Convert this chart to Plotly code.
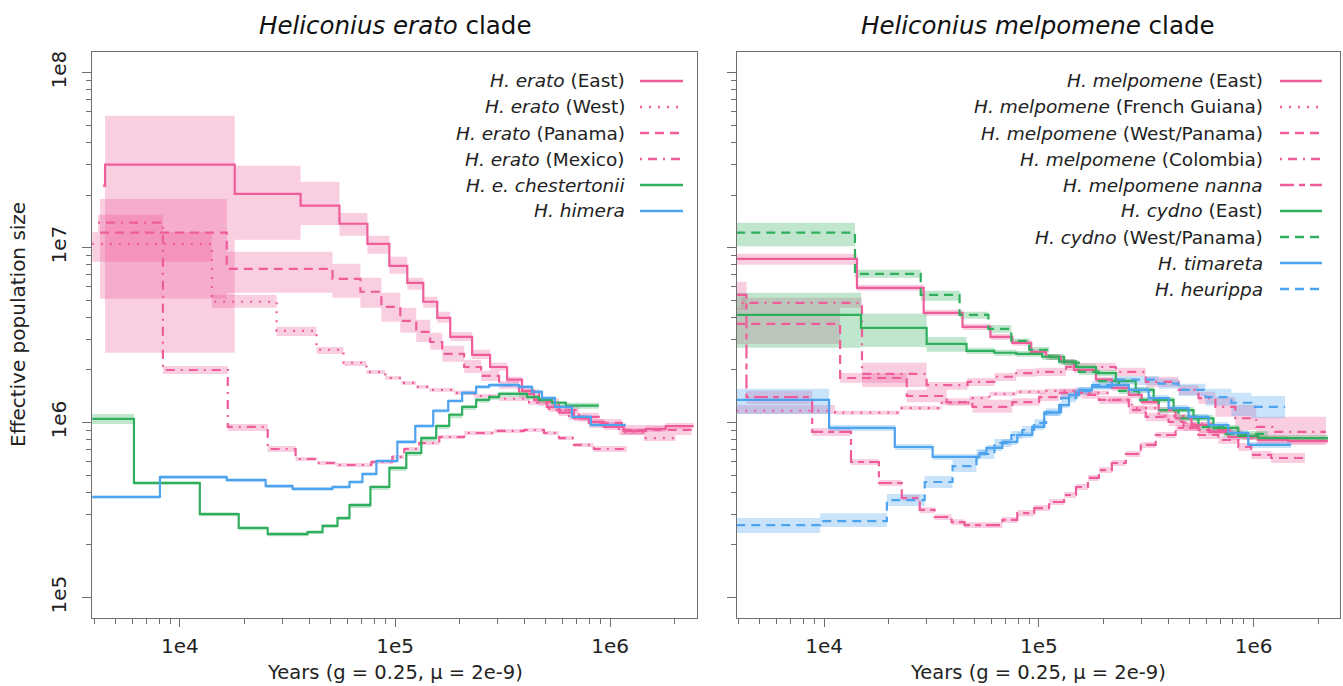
import plotly.graph_objects as go

W, H = 1343, 686
FONT = "DejaVu Sans"
PINK = "#EE5C9A"
GREEN = "#2FAE5E"
BLUE = "#4DA3EE"
AXC = "#6E6E6E"

# ---------------- Left panel: Heliconius erato clade ----------------
erato_east_t = [4400, 4490, 17990, 36390, 55170, 74400, 94100, 114000, 135300, 157100, 180500, 228200, 276600,
                331700, 389200, 442500, 508100, 577800, 678000, 795800, 933900, 1156000, 1462000, 1810000, 2440000]
erato_east_ne = [2.26e7, 2.98e7, 2.03e7, 1.74e7, 1.37e7, 1.05e7, 7.88e6, 6.30e6, 4.91e6, 3.97e6, 3.09e6, 2.44e6,
                 2.08e6, 1.76e6, 1.52e6, 1.35e6, 1.23e6, 1.14e6, 1.06e6, 1.01e6, 9.45e5, 8.97e5, 9.20e5, 9.57e5]
erato_east_lo = [2.20e7, 2.51e6, 1.11e7, 1.35e7, 1.17e7, 9.23e6, 7.09e6, 5.74e6, 4.53e6, 3.72e6, 2.93e6, 2.31e6,
                 1.98e6, 1.69e6, 1.46e6, 1.30e6, 1.18e6, 1.09e6, 1.02e6, 9.70e5, 9.08e5, 8.62e5, 8.85e5, 9.20e5]
erato_east_hi = [2.32e7, 5.68e7, 2.94e7, 2.38e7, 1.58e7, 1.17e7, 8.87e6, 6.73e6, 5.24e6, 4.30e6, 3.30e6, 2.61e6,
                 2.20e6, 1.83e6, 1.58e6, 1.40e6, 1.28e6, 1.18e6, 1.11e6, 1.05e6, 9.83e5, 9.33e5, 9.57e5, 9.96e5]

erato_west_t = [3900, 14070, 28170, 43170, 57590, 73610, 90160, 106900, 125500, 144200, 188300, 233100, 304500,
                419500, 519100, 642700, 795800, 1096000, 1431000, 2014000]
erato_west_ne = [1.05e7, 4.91e6, 3.35e6, 2.61e6, 2.20e6, 1.95e6, 1.80e6, 1.69e6, 1.60e6, 1.54e6, 1.48e6, 1.42e6,
                 1.37e6, 1.30e6, 1.18e6, 1.06e6, 9.70e5, 8.85e5, 8.17e5]
erato_west_lo = [8.31e6, 4.53e6, 3.13e6, 2.47e6, 2.11e6, 1.90e6, 1.76e6, 1.64e6, 1.56e6, 1.50e6, 1.44e6, 1.38e6,
                 1.33e6, 1.26e6, 1.15e6, 1.04e6, 9.33e5, 8.50e5, 7.86e5]
erato_west_hi = [1.23e7, 5.38e6, 3.53e6, 2.71e6, 2.25e6, 2.00e6, 1.85e6, 1.73e6, 1.64e6, 1.58e6, 1.52e6, 1.46e6,
                 1.40e6, 1.33e6, 1.21e6, 1.09e6, 1.01e6, 9.20e5, 8.50e5]

erato_panama_t = [4257, 16520, 51220, 69050, 86410, 105800, 125500, 145700, 165700, 209600, 251200, 304500,
                  377000, 466700, 577800, 715200, 885200, 1132000, 2389000]
erato_panama_ne = [1.22e7, 7.57e6, 6.64e6, 5.60e6, 4.59e6, 3.82e6, 3.30e6, 2.89e6, 2.47e6, 2.08e6, 1.85e6,
                   1.64e6, 1.46e6, 1.31e6, 1.18e6, 1.08e6, 9.96e5, 9.08e5]
erato_panama_lo = [5.10e6, 5.52e6, 5.17e6, 4.53e6, 3.77e6, 3.26e6, 2.89e6, 2.61e6, 2.23e6, 1.92e6, 1.73e6,
                   1.56e6, 1.38e6, 1.25e6, 1.12e6, 1.02e6, 9.45e5, 8.50e5]
erato_panama_hi = [1.90e7, 9.48e6, 8.09e6, 6.73e6, 5.52e6, 4.53e6, 3.87e6, 3.26e6, 2.75e6, 2.28e6, 1.98e6,
                   1.73e6, 1.54e6, 1.38e6, 1.25e6, 1.14e6, 1.05e6, 9.70e5]

erato_mexico_t = [4168, 8341, 16700, 25590, 34500, 43630, 53450, 77650, 97160, 110400, 129600, 160500, 209600,
                  288700, 397700, 492200, 577800, 678000, 839200, 1194000]
erato_mexico_ne = [1.39e7, 2.00e6, 9.45e5, 7.07e5, 6.20e5, 5.88e5, 5.73e5, 5.96e5, 6.37e5, 7.07e5, 7.65e5,
                   8.28e5, 8.73e5, 8.97e5, 9.08e5, 8.73e5, 8.17e5, 7.46e5, 7.07e5]
erato_mexico_lo = [1.23e7, 1.90e6, 8.97e5, 6.80e5, 6.04e5, 5.73e5, 5.58e5, 5.80e5, 6.20e5, 6.89e5, 7.46e5,
                   8.07e5, 8.50e5, 8.73e5, 8.85e5, 8.50e5, 7.96e5, 7.26e5, 6.80e5]
erato_mexico_hi = [1.54e7, 2.11e6, 9.83e5, 7.36e5, 6.37e5, 6.04e5, 5.88e5, 6.12e5, 6.54e5, 7.26e5, 7.86e5,
                   8.50e5, 8.97e5, 9.20e5, 9.33e5, 8.97e5, 8.39e5, 7.65e5, 7.36e5]

chestertonii_t = [3900, 6118, 12380, 18770, 25590, 39220, 46030, 54010, 61410, 76820, 94100, 112800, 132400,
                  155400, 178600, 205100, 238200, 273600, 304500, 410600, 466700, 536000, 622400, 885200]
chestertonii_ne = [1.05e6, 4.52e5, 3.00e5, 2.50e5, 2.31e5, 2.37e5, 2.57e5, 2.85e5, 3.38e5, 4.29e5, 5.51e5,
                   6.71e5, 8.17e5, 9.57e5, 1.11e6, 1.23e6, 1.35e6, 1.40e6, 1.46e6, 1.40e6, 1.35e6, 1.30e6, 1.25e6]
chestertonii_lo = [9.83e5, 4.40e5, 2.92e5, 2.43e5, 2.24e5, 2.31e5, 2.50e5, 2.78e5, 3.25e5, 4.12e5, 5.29e5,
                   6.45e5, 7.86e5, 9.20e5, 1.06e6, 1.18e6, 1.30e6, 1.35e6, 1.40e6, 1.35e6, 1.30e6, 1.25e6, 1.20e6]
chestertonii_hi = [1.12e6, 4.64e5, 3.08e5, 2.57e5, 2.37e5, 2.43e5, 2.63e5, 2.92e5, 3.47e5, 4.40e5, 5.65e5,
                   6.89e5, 8.39e5, 9.83e5, 1.14e6, 1.26e6, 1.38e6, 1.44e6, 1.50e6, 1.44e6, 1.38e6, 1.33e6, 1.30e6]

himera_t = [3900, 8078, 16520, 25040, 33420, 51220, 61410, 70540, 81900, 102500, 124200, 150500, 176700, 205100,
            238200, 273600, 377000, 433100, 481900, 553500, 663600, 812800, 1181000]
himera_ne = [3.76e5, 4.89e5, 4.70e5, 4.34e5, 4.18e5, 4.29e5, 4.58e5, 5.09e5, 6.04e5, 7.76e5, 9.57e5, 1.17e6,
             1.33e6, 1.48e6, 1.60e6, 1.64e6, 1.60e6, 1.50e6, 1.38e6, 1.23e6, 1.08e6, 9.70e5]
himera_lo = [3.66e5, 4.76e5, 4.58e5, 4.23e5, 4.07e5, 4.18e5, 4.46e5, 4.95e5, 5.88e5, 7.55e5, 9.33e5, 1.14e6,
             1.30e6, 1.44e6, 1.56e6, 1.60e6, 1.56e6, 1.46e6, 1.35e6, 1.20e6, 1.05e6, 9.45e5]
himera_hi = [3.86e5, 5.02e5, 4.83e5, 4.46e5, 4.29e5, 4.40e5, 4.70e5, 5.22e5, 6.20e5, 7.96e5, 9.83e5, 1.20e6,
             1.37e6, 1.52e6, 1.64e6, 1.69e6, 1.64e6, 1.54e6, 1.42e6, 1.26e6, 1.11e6, 9.96e5]

# ---------------- Right panel: Heliconius melpomene clade ----------------
mel_east_t = [3900, 14220, 29080, 44100, 59480, 75200, 92100, 108100, 126900, 145700, 184400, 218700, 262200,
              301200, 361200, 433100, 513600, 616000, 762500, 1050000, 1447000, 2218000]
mel_east_ne = [8.64e6, 5.90e6, 4.24e6, 3.53e6, 3.09e6, 2.86e6, 2.54e6, 2.38e6, 2.23e6, 2.00e6, 1.76e6, 1.58e6,
               1.44e6, 1.31e6, 1.18e6, 1.06e6, 9.70e5, 8.85e5, 8.28e5, 7.96e5, 7.86e5]
mel_east_lo = [7.98e6, 5.67e6, 4.08e6, 3.39e6, 2.97e6, 2.75e6, 2.44e6, 2.28e6, 2.14e6, 1.92e6, 1.69e6, 1.52e6,
               1.38e6, 1.26e6, 1.14e6, 1.02e6, 9.33e5, 8.50e5, 7.96e5, 7.65e5, 7.55e5]
mel_east_hi = [9.23e6, 6.14e6, 4.42e6, 3.67e6, 3.22e6, 2.97e6, 2.64e6, 2.47e6, 2.31e6, 2.08e6, 1.83e6, 1.64e6,
               1.50e6, 1.37e6, 1.23e6, 1.11e6, 1.01e6, 9.20e5, 8.62e5, 8.28e5, 8.17e5]

mel_fg_t = [3900, 11250, 22510, 35240, 47530, 58850, 78480, 108100, 162200, 211800, 270700, 361200, 481900,
            649600, 894800, 1447000]
mel_fg_ne = [1.17e6, 1.14e6, 1.21e6, 1.30e6, 1.38e6, 1.46e6, 1.50e6, 1.52e6, 1.48e6, 1.35e6, 1.21e6, 1.09e6,
             9.83e5, 8.85e5, 8.17e5]
mel_fg_lo = [1.12e6, 1.11e6, 1.18e6, 1.26e6, 1.35e6, 1.42e6, 1.46e6, 1.48e6, 1.44e6, 1.31e6, 1.18e6, 1.06e6,
             9.57e5, 8.62e5, 7.96e5]
mel_fg_hi = [1.26e6, 1.17e6, 1.25e6, 1.33e6, 1.42e6, 1.50e6, 1.54e6, 1.56e6, 1.52e6, 1.38e6, 1.25e6, 1.12e6,
             1.01e6, 9.08e5, 8.39e5]

mel_west_t = [3900, 11870, 24260, 37170, 49070, 75200, 100300, 124200, 158800, 190300, 262200, 314400, 401800,
              471700, 553500, 685300, 848300, 974800, 1206000, 1735000]
mel_west_ne = [3.67e6, 1.80e6, 1.42e6, 1.31e6, 1.23e6, 1.31e6, 1.40e6, 1.48e6, 1.44e6, 1.35e6, 1.18e6, 1.08e6,
               1.01e6, 9.45e5, 8.50e5, 7.96e5, 7.26e5, 6.54e5, 6.28e5]
mel_west_lo = [2.82e6, 1.69e6, 1.31e6, 1.25e6, 1.14e6, 1.25e6, 1.33e6, 1.40e6, 1.37e6, 1.28e6, 1.12e6, 1.02e6,
               9.57e5, 8.97e5, 8.07e5, 7.55e5, 6.89e5, 6.20e5, 5.88e5]
mel_west_hi = [4.53e6, 1.92e6, 1.54e6, 1.38e6, 1.35e6, 1.38e6, 1.48e6, 1.56e6, 1.52e6, 1.42e6, 1.25e6, 1.14e6,
               1.06e6, 9.96e5, 8.97e5, 8.39e5, 7.65e5, 6.89e5, 6.71e5]

mel_colombia_t = [4124, 15010, 30020, 46520, 62080, 78480, 97160, 133800, 176700, 228200, 314400, 447100,
                  553500, 663600, 821600, 1028000, 1259000, 2170000]
mel_colombia_ne = [4.84e6, 1.90e6, 1.64e6, 1.71e6, 1.83e6, 1.92e6, 1.95e6, 2.08e6, 2.08e6, 1.95e6, 1.71e6,
                   1.54e6, 1.38e6, 1.23e6, 1.06e6, 9.45e5, 8.85e5]
mel_colombia_lo = [4.53e6, 1.60e6, 1.54e6, 1.62e6, 1.73e6, 1.83e6, 1.85e6, 1.98e6, 1.98e6, 1.85e6, 1.60e6,
                   1.44e6, 1.28e6, 1.08e6, 9.08e5, 7.46e5, 7.46e5]
mel_colombia_hi = [5.17e6, 2.20e6, 1.71e6, 1.80e6, 1.92e6, 2.03e6, 2.06e6, 2.20e6, 2.20e6, 2.06e6, 1.83e6,
                   1.64e6, 1.50e6, 1.40e6, 1.26e6, 1.08e6, 1.08e6]

mel_nanna_t = [3900, 4349, 8800, 13340, 17990, 22990, 27870, 32700, 39220, 45050, 67570, 79320, 95100, 111600,
               131000, 148900, 169300, 190300, 218700, 253900, 298100, 349800, 433100, 553500, 804400]
mel_nanna_ne = [5.38e6, 1.40e6, 8.85e5, 5.96e5, 4.52e5, 3.71e5, 3.17e5, 2.89e5, 2.70e5, 2.60e5, 2.78e5, 3.04e5,
                3.25e5, 3.52e5, 3.86e5, 4.29e5, 4.83e5, 5.36e5, 5.88e5, 6.62e5, 7.46e5, 8.50e5, 9.33e5, 9.08e5]
mel_nanna_lo = [4.42e6, 1.28e6, 8.39e5, 5.73e5, 4.34e5, 3.57e5, 3.04e5, 2.78e5, 2.60e5, 2.50e5, 2.67e5, 2.92e5,
                3.13e5, 3.38e5, 3.71e5, 4.12e5, 4.64e5, 5.16e5, 5.65e5, 6.37e5, 7.17e5, 8.17e5, 8.97e5, 8.73e5]
mel_nanna_hi = [6.38e6, 1.52e6, 9.33e5, 6.20e5, 4.70e5, 3.86e5, 3.29e5, 3.00e5, 2.81e5, 2.70e5, 2.89e5, 3.17e5,
                3.38e5, 3.66e5, 4.01e5, 4.46e5, 5.02e5, 5.58e5, 6.12e5, 6.89e5, 7.76e5, 8.85e5, 9.70e5, 9.45e5]

cydno_east_t = [3900, 14850, 30020, 46030, 62080, 78480, 103600, 124200, 148900, 184400, 228200, 282500,
                342400, 424000, 524800, 649600, 848300, 1050000, 2218000]
cydno_east_ne = [4.13e6, 3.48e6, 2.82e6, 2.57e6, 2.51e6, 2.47e6, 2.38e6, 2.23e6, 2.08e6, 1.92e6, 1.73e6,
                 1.54e6, 1.35e6, 1.18e6, 1.06e6, 9.33e5, 8.39e5, 8.17e5]
cydno_east_lo = [2.68e6, 2.71e6, 2.54e6, 2.47e6, 2.41e6, 2.38e6, 2.28e6, 2.14e6, 2.00e6, 1.85e6, 1.67e6,
                 1.48e6, 1.30e6, 1.14e6, 1.02e6, 8.97e5, 8.07e5, 7.86e5]
cydno_east_hi = [5.52e6, 4.19e6, 3.09e6, 2.68e6, 2.61e6, 2.57e6, 2.47e6, 2.31e6, 2.17e6, 2.00e6, 1.80e6,
                 1.60e6, 1.40e6, 1.23e6, 1.11e6, 9.70e5, 8.73e5, 8.50e5]

cydno_west_t = [3900, 13920, 28170, 42720, 58210, 74400, 90160, 111600, 131000, 153700, 190300, 235700,
                291700, 361200, 447100, 553500, 722800, 1169000]
cydno_west_ne = [1.22e7, 7.09e6, 5.38e6, 4.13e6, 3.44e6, 2.93e6, 2.61e6, 2.38e6, 2.20e6, 1.95e6, 1.73e6,
                 1.52e6, 1.35e6, 1.18e6, 1.06e6, 9.45e5, 8.62e5]
cydno_west_lo = [1.02e7, 6.73e6, 4.97e6, 3.92e6, 3.26e6, 2.82e6, 2.51e6, 2.28e6, 2.11e6, 1.87e6, 1.67e6,
                 1.46e6, 1.30e6, 1.14e6, 1.02e6, 9.08e5, 8.28e5]
cydno_west_hi = [1.39e7, 7.48e6, 5.67e6, 4.30e6, 3.62e6, 3.03e6, 2.71e6, 2.47e6, 2.28e6, 2.03e6, 1.80e6,
                 1.58e6, 1.40e6, 1.23e6, 1.11e6, 9.83e5, 8.97e5]

timareta_t = [3900, 10550, 21340, 32020, 52880, 56980, 67570, 79320, 93100, 105800, 124200, 138200, 153700,
              176700, 218700, 262200, 324600, 401800, 497600, 616000, 762500, 943900, 1494000]
timareta_ne = [1.35e6, 9.33e5, 7.26e5, 6.37e5, 6.71e5, 7.17e5, 7.76e5, 8.50e5, 9.45e5, 1.14e6, 1.26e6, 1.44e6,
               1.54e6, 1.60e6, 1.64e6, 1.54e6, 1.38e6, 1.21e6, 1.08e6, 9.70e5, 8.73e5, 7.46e5]
timareta_lo = [1.12e6, 8.97e5, 6.98e5, 6.12e5, 6.45e5, 6.89e5, 7.46e5, 8.17e5, 9.08e5, 1.09e6, 1.21e6, 1.38e6,
               1.48e6, 1.54e6, 1.58e6, 1.48e6, 1.33e6, 1.17e6, 1.04e6, 9.33e5, 8.39e5, 7.17e5]
timareta_hi = [1.56e6, 9.70e5, 7.55e5, 6.62e5, 6.98e5, 7.46e5, 8.07e5, 8.85e5, 9.83e5, 1.18e6, 1.31e6, 1.50e6,
               1.60e6, 1.67e6, 1.71e6, 1.60e6, 1.44e6, 1.26e6, 1.12e6, 1.01e6, 9.08e5, 7.76e5]

heurippa_t = [3900, 9583, 19600, 29390, 39630, 51220, 62080, 74400, 83680, 95100, 108100, 126900, 148900,
              176700, 218700, 270700, 361200, 447100, 596400, 787100, 974600, 1401000]
heurippa_ne = [2.60e5, 2.74e5, 3.61e5, 4.58e5, 5.65e5, 6.62e5, 7.65e5, 8.50e5, 9.08e5, 9.96e5, 1.15e6, 1.38e6,
               1.52e6, 1.64e6, 1.76e6, 1.76e6, 1.67e6, 1.54e6, 1.40e6, 1.30e6, 1.23e6]
heurippa_lo = [2.34e5, 2.53e5, 3.34e5, 4.23e5, 5.22e5, 6.20e5, 7.26e5, 8.07e5, 8.62e5, 9.45e5, 1.09e6, 1.31e6,
               1.44e6, 1.56e6, 1.67e6, 1.64e6, 1.56e6, 1.42e6, 1.25e6, 1.09e6, 1.06e6]
heurippa_hi = [2.85e5, 3.04e5, 3.91e5, 4.95e5, 6.12e5, 7.07e5, 8.07e5, 8.97e5, 9.57e5, 1.05e6, 1.21e6, 1.46e6,
               1.60e6, 1.73e6, 1.85e6, 1.85e6, 1.78e6, 1.67e6, 1.56e6, 1.48e6, 1.42e6]

x_major = [1e4, 1e5, 1e6]
x_major_text = ["1e4", "1e5", "1e6"]
y_major = [1e5, 1e6, 1e7, 1e8]
y_major_text = ["1e5", "1e6", "1e7", "1e8"]
x_minor = [k * 10 ** e for e in (3, 4, 5, 6) for k in range(2, 10)]
y_minor = [k * 10 ** e for e in (5, 6, 7) for k in range(2, 10)]

DASHES = {"solid": "solid", "dot": "2px,7px", "dash": "9px,6px",
          "dashdot": "2px,6px,9px,6px", "twodash": "14px,5px,6px,5px"}

left_series = [
    ("<i>H. erato</i> (East)", erato_east_t, erato_east_ne, erato_east_lo, erato_east_hi, PINK, "solid"),
    ("<i>H. erato</i> (West)", erato_west_t, erato_west_ne, erato_west_lo, erato_west_hi, PINK, "dot"),
    ("<i>H. erato</i> (Panama)", erato_panama_t, erato_panama_ne, erato_panama_lo, erato_panama_hi, PINK, "dash"),
    ("<i>H. erato</i> (Mexico)", erato_mexico_t, erato_mexico_ne, erato_mexico_lo, erato_mexico_hi, PINK, "dashdot"),
    ("<i>H. e. chestertonii</i>", chestertonii_t, chestertonii_ne, chestertonii_lo, chestertonii_hi, GREEN, "solid"),
    ("<i>H. himera</i>", himera_t, himera_ne, himera_lo, himera_hi, BLUE, "solid"),
]
right_series = [
    ("<i>H. melpomene</i> (East)", mel_east_t, mel_east_ne, mel_east_lo, mel_east_hi, PINK, "solid"),
    ("<i>H. melpomene</i> (French Guiana)", mel_fg_t, mel_fg_ne, mel_fg_lo, mel_fg_hi, PINK, "dot"),
    ("<i>H. melpomene</i> (West/Panama)", mel_west_t, mel_west_ne, mel_west_lo, mel_west_hi, PINK, "dash"),
    ("<i>H. melpomene</i> (Colombia)", mel_colombia_t, mel_colombia_ne, mel_colombia_lo, mel_colombia_hi, PINK, "dashdot"),
    ("<i>H. melpomene nanna</i>", mel_nanna_t, mel_nanna_ne, mel_nanna_lo, mel_nanna_hi, PINK, "twodash"),
    ("<i>H. cydno</i> (East)", cydno_east_t, cydno_east_ne, cydno_east_lo, cydno_east_hi, GREEN, "solid"),
    ("<i>H. cydno</i> (West/Panama)", cydno_west_t, cydno_west_ne, cydno_west_lo, cydno_west_hi, GREEN, "dash"),
    ("<i>H. timareta</i>", timareta_t, timareta_ne, timareta_lo, timareta_hi, BLUE, "solid"),
    ("<i>H. heurippa</i>", heurippa_t, heurippa_ne, heurippa_lo, heurippa_hi, BLUE, "dash"),
]


def rgba(hexc, a):
    h = hexc.lstrip("#")
    return "rgba(%d,%d,%d,%s)" % (int(h[0:2], 16), int(h[2:4], 16), int(h[4:6], 16), a)


fig = go.Figure()


def add_panel(series, xa, ya):
    for name, t, ne, lo, hi, col, dash in series:
        bx, by = [], []
        for i in range(len(ne)):
            bx += [t[i], t[i + 1], t[i + 1], t[i], t[i], None]
            by += [lo[i], lo[i], hi[i], hi[i], lo[i], None]
        fig.add_trace(go.Scatter(x=bx, y=by, xaxis=xa, yaxis=ya, mode="lines",
                                 line=dict(width=0, color=rgba(col, 0)), fill="toself",
                                 fillcolor=rgba(col, 0.3), hoverinfo="skip", showlegend=False))
    for name, t, ne, lo, hi, col, dash in series:
        fig.add_trace(go.Scatter(x=t, y=list(ne) + [ne[-1]], xaxis=xa, yaxis=ya, mode="lines",
                                 line=dict(color=col, width=2.2, dash=DASHES[dash], shape="hv"),
                                 name=name, showlegend=False))


add_panel(left_series, "x", "y")
add_panel(right_series, "x2", "y2")

PX_L0, PX_L1, PX_R0, PX_R1 = 92.3, 696.7, 736.7, 1340.0
PY_T, PY_B = 51.7, 618.3

xcommon = dict(type="log", range=[3.593, 6.402], showline=True, mirror=True, linecolor=AXC, linewidth=1.2,
               ticks="outside", ticklen=8, tickwidth=1.2, tickcolor=AXC, tickmode="array",
               tickvals=x_major, ticktext=x_major_text, ticklabelstandoff=2,
               tickfont=dict(family=FONT, size=20, color="#222"), showgrid=False, zeroline=False,
               automargin=False, fixedrange=True,
               minor=dict(ticks="outside", ticklen=5, tickwidth=1.2, tickcolor=AXC, tickmode="array",
                          tickvals=x_minor, showgrid=False))
ycommon = dict(type="log", range=[4.882, 8.120], domain=[1 - PY_B / H, 1 - PY_T / H], showline=True,
               mirror=True, linecolor=AXC, linewidth=1.2, ticks="outside", ticklen=9, tickwidth=1.2,
               tickcolor=AXC, tickmode="array", tickvals=y_major, ticktext=y_major_text, tickangle=-90,
               ticklabelstandoff=8,
               tickfont=dict(family=FONT, size=20, color="#222"), showgrid=False, zeroline=False,
               automargin=False, fixedrange=True,
               minor=dict(ticks="outside", ticklen=5, tickwidth=1.2, tickcolor=AXC, tickmode="array",
                          tickvals=y_minor, showgrid=False))

fig.update_layout(
    template="none", width=W, height=H, margin=dict(l=0, r=0, t=0, b=0),
    paper_bgcolor="white", plot_bgcolor="white", showlegend=False,
    font=dict(family=FONT, color="#222"),
    xaxis=dict(xcommon, domain=[PX_L0 / W, PX_L1 / W], anchor="y"),
    xaxis2=dict(xcommon, domain=[PX_R0 / W, PX_R1 / W], anchor="y2"),
    yaxis=dict(ycommon, anchor="x"),
    yaxis2=dict(ycommon, anchor="x2", showticklabels=False),
)

ann = []
shapes = []
# panel titles
ann.append(dict(text="<i>Heliconius erato</i> clade", x=(PX_L0 + PX_L1) / 2 / W, y=1 - 25 / H,
                xref="paper", yref="paper", showarrow=False, xanchor="center", yanchor="middle",
                font=dict(family=FONT, size=24.5, color="#111")))
ann.append(dict(text="<i>Heliconius melpomene</i> clade", x=(PX_R0 + PX_R1) / 2 / W, y=1 - 25 / H,
                xref="paper", yref="paper", showarrow=False, xanchor="center", yanchor="middle",
                font=dict(family=FONT, size=24.5, color="#111")))
# axis titles
for cx in ((PX_L0 + PX_L1) / 2, (PX_R0 + PX_R1) / 2):
    ann.append(dict(text="Years (g = 0.25, \u03bc = 2e-9)", x=cx / W, y=1 - 672 / H, xref="paper", yref="paper",
                    showarrow=False, xanchor="center", yanchor="middle",
                    font=dict(family=FONT, size=19.5, color="#222")))
ann.append(dict(text="Effective population size", x=18 / W, y=1 - 325 / H, xref="paper", yref="paper",
                showarrow=False, xanchor="center", yanchor="middle", textangle=-90,
                font=dict(family=FONT, size=20, color="#222")))


# legends (text right-aligned, line sample on the right)
def add_legend(series, text_right, s0, s1, y0, dy):
    for i, (name, t, ne, lo, hi, col, dash) in enumerate(series):
        yy = 1 - (y0 + i * dy) / H
        ann.append(dict(text=name, x=text_right / W, y=yy, xref="paper", yref="paper", showarrow=False,
                        xanchor="right", yanchor="middle", font=dict(family=FONT, size=18.5, color="#222")))
        shapes.append(dict(type="line", xref="paper", yref="paper", x0=s0 / W, x1=s1 / W, y0=yy, y1=yy,
                           line=dict(color=col, width=2.6, dash=DASHES[dash])))


add_legend(left_series, 627, 640, 683, 81, 26)
add_legend(right_series, 1265, 1280, 1322, 81, 26)

fig.update_layout(annotations=ann, shapes=shapes)
fig.write_html("out.html")
